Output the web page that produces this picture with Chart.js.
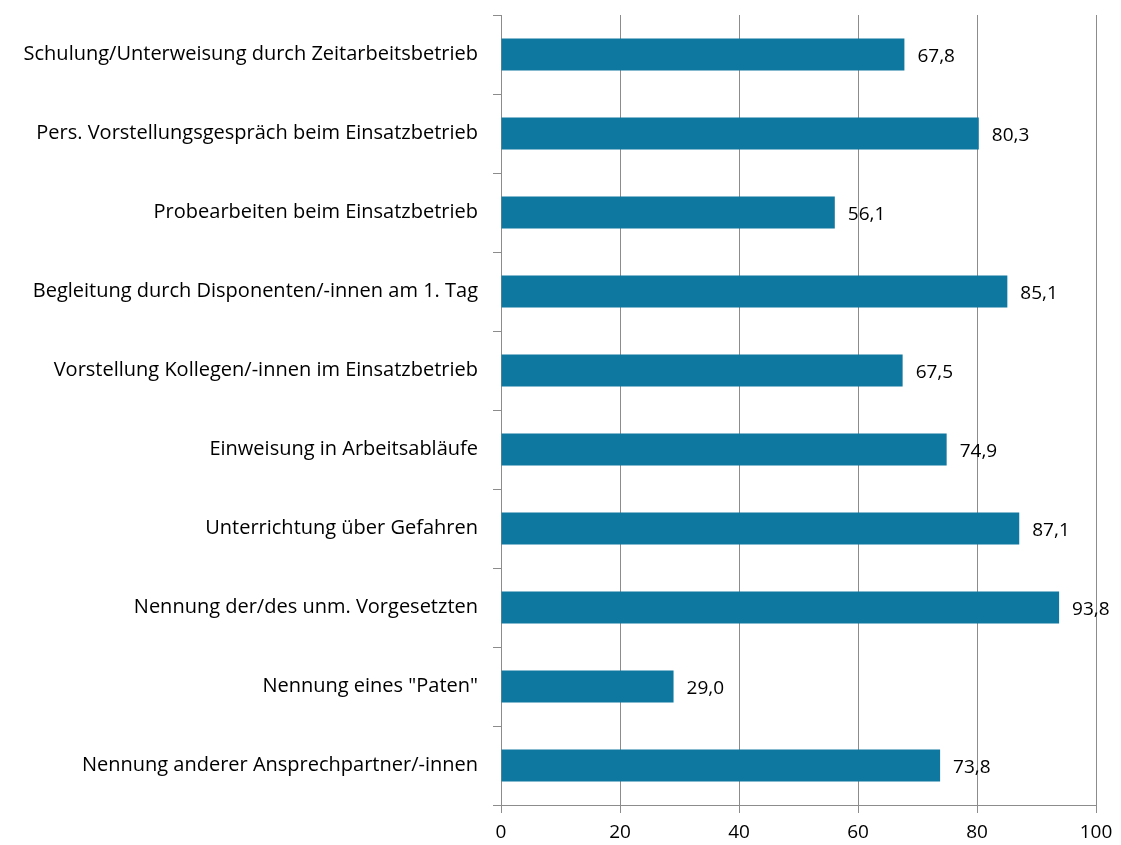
<!DOCTYPE html>
<html>
<head>
<meta charset="utf-8">
<script src="https://cdn.jsdelivr.net/npm/chart.js@4"></script>
<style>
  html, body { margin: 0; padding: 0; background: #fff; }
  #wrap { width: 1121px; height: 845px; }
</style>
</head>
<body>
<div id="wrap"><canvas id="myChart" width="1121" height="845"></canvas></div>
<script>
'use strict'
const categories = [
    'Schulung/Unterweisung durch Zeitarbeitsbetrieb',
    'Pers. Vorstellungsgespräch beim Einsatzbetrieb',
    'Probearbeiten beim Einsatzbetrieb',
    'Begleitung durch Disponenten/-innen am 1. Tag',
    'Vorstellung Kollegen/-innen im Einsatzbetrieb',
    'Einweisung in Arbeitsabläufe',
    'Unterrichtung über Gefahren',
    'Nennung der/des unm. Vorgesetzten',
    'Nennung eines "Paten"',
    'Nennung anderer Ansprechpartner/-innen'
]
const values = [67.8, 80.3, 56.1, 85.1, 67.5, 74.9, 87.1, 93.8, 29.0, 73.8]
const xTicks = [0, 20, 40, 60, 80, 100]

const fontFamily = "'Open Sans', 'Liberation Sans', sans-serif"

// eigene Datenbeschriftung (Werte mit Komma)
const valueLabels = {
    id: 'valueLabels',
    afterDatasetsDraw(chart) {
        const ctx = chart.ctx
        const meta = chart.getDatasetMeta(0)
        ctx.save()
        ctx.font = `19px ${fontFamily}`
        ctx.fillStyle = '#000'
        ctx.textBaseline = 'middle'
        ctx.textAlign = 'left'
        meta.data.forEach((bar, i) => {
            ctx.fillText(values[i].toFixed(1).replace('.', ','), bar.x + 13, bar.y + 2)
        })
        ctx.restore()
    }
}

const ctx = document.getElementById('myChart')

new Chart(ctx, {
    type: 'bar',
    data: {
        labels: categories,
        datasets: [{
            data: values,
            backgroundColor: '#0e78a0',
            borderWidth: 0,
            barPercentage: 0.405,
            categoryPercentage: 1
        }]
    },
    options: {
        indexAxis: 'y',
        responsive: false,
        animation: false,
        layout: { padding: { top: 15, right: 25, left: 0, bottom: 0 } },
        plugins: {
            legend: { display: false },
            tooltip: { enabled: false }
        },
        scales: {
            x: {
                min: 0,
                max: 100,
                afterBuildTicks(scale) {
                    scale.ticks = xTicks.map(v => ({ value: v }))
                },
                afterFit(scale) { scale.height = 40 },
                grid: {
                    color: '#8c8c8c',
                    lineWidth: 1,
                    tickLength: 8
                },
                border: { color: '#8c8c8c', width: 1 },
                ticks: {
                    color: '#000',
                    font: { family: fontFamily, size: 19 },
                    padding: 8
                }
            },
            y: {
                afterFit(scale) {
                    scale.width = 501
                    scale.paddingTop = 0
                    scale.paddingBottom = 0
                },
                grid: {
                    offset: true,
                    drawOnChartArea: false,
                    color: '#8c8c8c',
                    tickLength: 8
                },
                border: { color: '#8c8c8c', width: 1 },
                ticks: {
                    color: '#000',
                    font: { family: fontFamily, size: 20 },
                    padding: 15
                }
            }
        }
    },
    plugins: [valueLabels]
})
</script>
</body>
</html>
